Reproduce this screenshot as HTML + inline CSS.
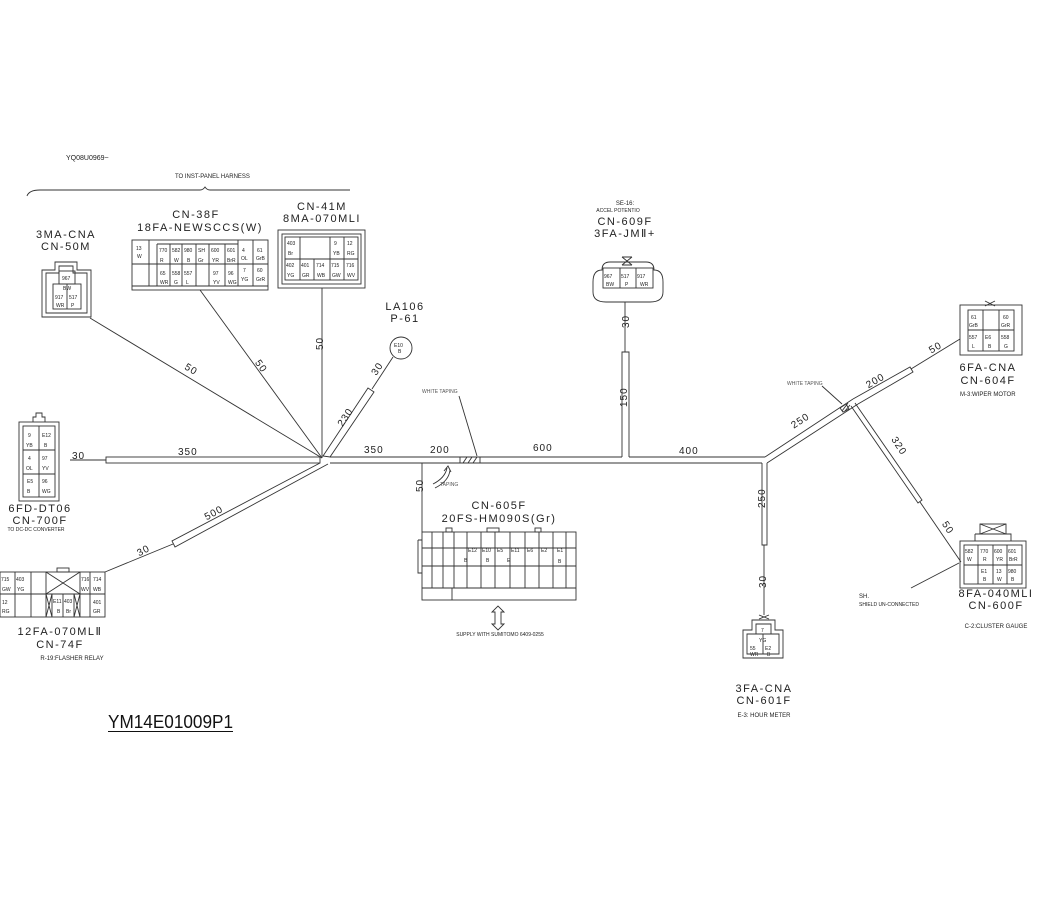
<!DOCTYPE html>
<html><head><meta charset="utf-8"><style>
html,body{margin:0;padding:0;background:#fff}
svg{display:block}
text{font-family:"Liberation Sans",sans-serif;fill:#222}
.l{font-size:11px;letter-spacing:1.5px}
.s{font-size:6px}
.t{font-size:5px;fill:#555}
.n{font-size:10px;letter-spacing:1px}
</style></head><body>
<svg width="1055" height="903" viewBox="0 0 1055 903" xmlns="http://www.w3.org/2000/svg">
<g stroke="#333" stroke-width="0.9" fill="none">
<path d="M27,196 Q29,190 40,190 L200,190 Q203,190 205,187 Q207,190 210,190 L350,190"/>
<line x1="70" y1="460" x2="106" y2="460"/>
<rect x="106" y="457" width="214" height="6"/>
<path d="M330,457 L622,457 M629,457 L765,457 M330,463 L762,463"/>
<path d="M765,457 L853,399 M767,463 L858,404"/>
<rect x="460" y="457" width="20" height="6"/>
<path d="M463,463 L467,457 M468,463 L472,457 M473,463 L477,457"/>
<line x1="90" y1="318" x2="322" y2="458"/>
<line x1="200" y1="290" x2="322" y2="458"/>
<line x1="322" y1="288" x2="322" y2="458"/>
<line x1="393" y1="357" x2="372" y2="389"/>
<path d="M368,388 L374,392 L330,457 L323,456 Z"/>
<path d="M320,463 L172,541 L175,547 L328,464"/>
<line x1="173" y1="544" x2="105" y2="572"/>
<line x1="422" y1="463" x2="422" y2="532"/>
<path d="M433,484 Q445,478 447,468"/><path d="M435,488 Q449,481 450,470"/>
<path d="M444,471 L448,466 L451,472"/>
<line x1="625" y1="302" x2="625" y2="352"/>
<path d="M622,457 L622,352 L629,352 L629,457"/>
<path d="M762,463 L762,545 L767,545 L767,463"/>
<line x1="764" y1="545" x2="764" y2="615"/>
<path d="M853,399 L910,367 L913,372 L858,404"/>
<path d="M840,408 L846,404 L849,409 L843,412 Z"/>
<path d="M842,411 L848,403 M845,411 L850,405"/>
<line x1="911" y1="369" x2="960" y2="339"/>
<path d="M855,403 L922,500 L918,503 L851,406"/>
<line x1="920" y1="502" x2="961" y2="562"/>
<line x1="459" y1="396" x2="477" y2="456"/>
<line x1="822" y1="386" x2="842" y2="404"/>
<line x1="911" y1="588" x2="959" y2="563"/>
<path d="M495,612 L495,624 L492,624 L498,630 L504,624 L501,624 L501,612 L504,612 L498,606 L492,612 Z"/>
<circle cx="401" cy="348" r="11"/>

<path d="M42,317 L42,270 L55,270 L55,262 L77,262 L77,270 L91,270 L91,317 Z"/>
<path d="M46,313 L46,273 L59,273 L59,266 L73,266 L73,273 L87,273 L87,313 Z"/>
<rect x="53" y="284" width="28" height="25"/><rect x="59" y="271" width="16" height="13"/><line x1="67" y1="284" x2="67" y2="309"/>
<rect x="132" y="240" width="136" height="50"/>
<line x1="132" y1="286" x2="268" y2="286"/>
<path d="M149,240 V286 M157,244 V286 M170,244 V286 M182,244 V286 M196,244 V286 M209,244 V286 M225,244 V286 M238,240 V286 M253,240 V286 M157,244 H238 M132,264 H268"/>
<rect x="278" y="230" width="87" height="58"/><rect x="282" y="234" width="79" height="50"/>
<rect x="285" y="237" width="73" height="43"/>
<path d="M285,259 H358 M300,237 V280 M330,237 V280 M344,237 V280 M314,259 V280"/>
<rect x="19" y="422" width="40" height="79"/>
<rect x="23" y="426" width="32" height="71"/>
<path d="M33,422 V417 L36,417 V413 L42,413 V417 L45,417 V422"/>
<path d="M23,450 H55 M23,474 H55 M39,426 V497"/>
<rect x="0" y="572" width="105" height="45"/>
<path d="M0,594 H105 M15,572 V617 M31,572 V617 M46,572 V617 M90,572 V617 M80,572 V617 M46,594 V572 M46,572 L80,594 M80,572 L46,594 M46,594 L52,617 M52,594 L46,617 M74,594 L80,617 M80,594 L74,617 M52,594 V617 M63,594 V617 M74,594 V617"/>
<rect x="57" y="568" width="12" height="4"/>
<rect x="422" y="532" width="154" height="68"/>
<path d="M422,548 H576 M422,566 H576 M422,588 H576 M432,532 V588 M443,532 V588 M454,532 V588 M467,532 V588 M481,532 V588 M495,532 V588 M510,532 V588 M525,532 V588 M539,532 V588 M553,532 V588 M566,532 V588 M452,588 V600"/>
<path d="M418,540 H422 M418,540 V573 H422"/>
<rect x="446" y="528" width="6" height="4"/><rect x="487" y="528" width="12" height="4"/><rect x="535" y="528" width="6" height="4"/>
<path d="M602,270 Q593,270 593,282 V292 Q593,302 606,302 H650 Q663,302 663,292 V282 Q663,270 654,270 Q654,262 646,262 H610 Q602,262 602,270 Z"/>
<rect x="603" y="268" width="50" height="20"/>
<path d="M620,268 V288 M636,268 V288"/>
<path d="M622,257 L632,265 M632,257 L622,265 M622,257 H632 M622,265 H632"/>
<rect x="960" y="305" width="62" height="50"/>
<rect x="968" y="310" width="46" height="41"/>
<path d="M968,330 H1014 M983,310 V351 M999,310 V351"/>
<path d="M985,301 L995,306 M995,301 L985,306"/>
<rect x="960" y="541" width="66" height="47"/>
<rect x="964" y="545" width="58" height="39"/>
<path d="M964,565 H1022 M978,545 V584 M993,545 V584 M1007,545 V584"/>
<rect x="980" y="524" width="26" height="10"/><path d="M980,524 L1006,534 M1006,524 L980,534 M975,534 H1011 V541 M975,534 V541"/>
<path d="M743,658 V630 L752,630 V620 H775 V630 L783,630 V658 Z"/>
<path d="M747,654 V634 L756,634 V624 H771 V634 L779,634 V654 Z"/>
<path d="M756,634 H771 M763,634 V654"/>
<path d="M759,615 L769,619 M769,615 L759,619"/>
</g>
<g>
<text x="66" y="160" class="s" style="font-size:7px">YQ08U0969~</text>
<text x="175" y="178" class="s">TO INST-PANEL HARNESS</text>
<text x="66" y="238" class="l" text-anchor="middle">3MA-CNA</text>
<text x="66" y="250" class="l" text-anchor="middle">CN-50M</text>
<text x="196" y="218" class="l" text-anchor="middle">CN-38F</text>
<text x="200" y="231" class="l" text-anchor="middle">18FA-NEWSCCS(W)</text>
<text x="322" y="210" class="l" text-anchor="middle">CN-41M</text>
<text x="322" y="222" class="l" text-anchor="middle">8MA-070MLI</text>
<text x="405" y="310" class="l" text-anchor="middle">LA106</text>
<text x="405" y="322" class="l" text-anchor="middle">P-61</text>
<text x="625" y="205" class="s" text-anchor="middle">SE-16:</text>
<text x="618" y="212" class="t" text-anchor="middle" style="fill:#222">ACCEL POTENTIO</text>
<text x="625" y="225" class="l" text-anchor="middle">CN-609F</text>
<text x="625" y="237" class="l" text-anchor="middle">3FA-JMⅡ+</text>
<text x="40" y="512" class="l" text-anchor="middle">6FD-DT06</text>
<text x="40" y="524" class="l" text-anchor="middle">CN-700F</text>
<text x="36" y="531" class="t" text-anchor="middle" style="fill:#222">TO DC-DC CONVERTER</text>
<text x="60" y="635" class="l" text-anchor="middle">12FA-070MLⅡ</text>
<text x="60" y="648" class="l" text-anchor="middle">CN-74F</text>
<text x="72" y="660" class="s" text-anchor="middle">R-19:FLASHER RELAY</text>
<text x="499" y="509" class="l" text-anchor="middle">CN-605F</text>
<text x="499" y="522" class="l" text-anchor="middle">20FS-HM090S(Gr)</text>
<text x="500" y="636" class="t" text-anchor="middle" style="fill:#222">SUPPLY WITH SUMITOMO 6409-0255</text>
<text x="440" y="486" class="t">TAPING</text>
<text x="422" y="393" class="t">WHITE TAPING</text>
<text x="787" y="385" class="t">WHITE TAPING</text>
<text x="988" y="371" class="l" text-anchor="middle">6FA-CNA</text>
<text x="988" y="384" class="l" text-anchor="middle">CN-604F</text>
<text x="960" y="396" class="s">M-3:WIPER MOTOR</text>
<text x="996" y="597" class="l" text-anchor="middle">8FA-040MLI</text>
<text x="996" y="609" class="l" text-anchor="middle">CN-600F</text>
<text x="996" y="628" class="s" text-anchor="middle">C-2:CLUSTER GAUGE</text>
<text x="859" y="598" class="s">SH.</text>
<text x="859" y="606" class="t" style="fill:#222">SHIELD UN-CONNECTED</text>
<text x="764" y="692" class="l" text-anchor="middle">3FA-CNA</text>
<text x="764" y="704" class="l" text-anchor="middle">CN-601F</text>
<text x="764" y="717" class="s" text-anchor="middle">E-3: HOUR METER</text>
<text x="108" y="728" style="font-size:18px;fill:#111" textLength="125" lengthAdjust="spacingAndGlyphs">YM14E01009P1</text>
<line x1="108" y1="731.5" x2="233" y2="731.5" stroke="#111" stroke-width="1"/>

<text x="72" y="459" class="n">30</text>
<text x="178" y="455" class="n">350</text>
<text x="364" y="453" class="n">350</text>
<text x="430" y="453" class="n">200</text>
<text x="533" y="451" class="n">600</text>
<text x="679" y="454" class="n">400</text>
<text x="184" y="372" class="n" transform="rotate(31 190 370)">50</text>
<text x="255" y="368" class="n" transform="rotate(55 260 365)">50</text>
<text x="318" y="355" class="n" transform="rotate(-90 318 350)">50</text>
<text x="372" y="374" class="n" transform="rotate(-56 376 371)">30</text>
<text x="336" y="421" class="n" transform="rotate(-56 345 418)">230</text>
<text x="204" y="516" class="n" transform="rotate(-28 214 513)">500</text>
<text x="137" y="554" class="n" transform="rotate(-28 143 551)">30</text>
<text x="418" y="497" class="n" transform="rotate(-90 418 492)">50</text>
<text x="624" y="333" class="n" transform="rotate(-90 624 328)">30</text>
<text x="622" y="412" class="n" transform="rotate(-90 622 407)">150</text>
<text x="758" y="515" class="n" transform="rotate(-90 758 508)">250</text>
<text x="761" y="593" class="n" transform="rotate(-90 761 588)">30</text>
<text x="790" y="424" class="n" transform="rotate(-33 800 420)">250</text>
<text x="865" y="384" class="n" transform="rotate(-30 875 380)">200</text>
<text x="929" y="351" class="n" transform="rotate(-30 935 348)">50</text>
<text x="889" y="447" class="n" transform="rotate(57 897 445)">320</text>
<text x="941" y="529" class="n" transform="rotate(57 946 527)">50</text>
</g>
<g class="t">
<text x="62" y="280">967</text><text x="63" y="290">BW</text><text x="55" y="299">917</text><text x="69" y="299">517</text><text x="56" y="307">WR</text><text x="71" y="307">P</text>
<text x="136" y="250">13</text><text x="137" y="258">W</text><text x="159" y="252">770</text><text x="172" y="252">582</text><text x="184" y="252">980</text><text x="198" y="252">SH</text><text x="211" y="252">600</text><text x="227" y="252">601</text><text x="160" y="262">R</text><text x="174" y="262">W</text><text x="187" y="262">B</text><text x="198" y="262">Gr</text><text x="212" y="262">YR</text><text x="227" y="262">BrR</text><text x="242" y="252">4</text><text x="257" y="252">61</text><text x="241" y="260">OL</text><text x="256" y="260">GrB</text>
<text x="160" y="275">65</text><text x="172" y="275">558</text><text x="184" y="275">557</text><text x="213" y="275">97</text><text x="228" y="275">96</text><text x="160" y="284">WR</text><text x="174" y="284">G</text><text x="186" y="284">L</text><text x="213" y="284">YV</text><text x="228" y="284">WG</text><text x="243" y="272">7</text><text x="257" y="272">60</text><text x="241" y="281">YG</text><text x="256" y="281">GrR</text>
<text x="287" y="245">403</text><text x="288" y="255">Br</text><text x="334" y="245">9</text><text x="347" y="245">12</text><text x="333" y="255">YB</text><text x="347" y="255">RG</text>
<text x="286" y="267">402</text><text x="301" y="267">401</text><text x="316" y="267">714</text><text x="331" y="267">715</text><text x="346" y="267">716</text><text x="287" y="277">YG</text><text x="302" y="277">GR</text><text x="317" y="277">WB</text><text x="332" y="277">GW</text><text x="347" y="277">WV</text>
<text x="28" y="437">9</text><text x="42" y="437">E12</text><text x="26" y="447">YB</text><text x="44" y="447">B</text><text x="28" y="460">4</text><text x="42" y="460">97</text><text x="26" y="470">OL</text><text x="42" y="470">YV</text><text x="27" y="483">E5</text><text x="42" y="483">96</text><text x="27" y="493">B</text><text x="42" y="493">WG</text>
<text x="1" y="581">715</text><text x="16" y="581">403</text><text x="2" y="591">GW</text><text x="17" y="591">YG</text><text x="2" y="604">12</text><text x="2" y="613">RG</text><text x="81" y="581">716</text><text x="93" y="581">714</text><text x="81" y="591">WV</text><text x="93" y="591">WB</text><text x="93" y="604">401</text><text x="93" y="613">GR</text><text x="53" y="603">E11</text><text x="64" y="603">403</text><text x="57" y="613">B</text><text x="66" y="613">Br</text>
<text x="468" y="552">E12</text><text x="482" y="552">E10</text><text x="497" y="552">E5</text><text x="511" y="552">E11</text><text x="527" y="552">E6</text><text x="541" y="552">E2</text><text x="557" y="552">E1</text><text x="464" y="562">B</text><text x="486" y="562">B</text><text x="507" y="562">E</text><text x="558" y="563">B</text>
<text x="604" y="278">967</text><text x="621" y="278">517</text><text x="637" y="278">917</text><text x="606" y="286">BW</text><text x="625" y="286">P</text><text x="640" y="286">WR</text>
<text x="971" y="319">61</text><text x="1003" y="319">60</text><text x="969" y="327">GrB</text><text x="1001" y="327">GrR</text><text x="969" y="339">557</text><text x="985" y="339">E6</text><text x="1001" y="339">558</text><text x="972" y="348">L</text><text x="988" y="348">B</text><text x="1004" y="348">G</text>
<text x="965" y="553">582</text><text x="980" y="553">770</text><text x="994" y="553">600</text><text x="1008" y="553">601</text><text x="967" y="561">W</text><text x="983" y="561">R</text><text x="996" y="561">YR</text><text x="1009" y="561">BrR</text><text x="981" y="573">E1</text><text x="996" y="573">13</text><text x="1008" y="573">980</text><text x="983" y="581">B</text><text x="997" y="581">W</text><text x="1011" y="581">B</text>
<text x="761" y="632">7</text><text x="759" y="642">YG</text><text x="750" y="650">55</text><text x="765" y="650">E2</text><text x="750" y="656">WR</text><text x="767" y="656">B</text>
<text x="394" y="347">E10</text><text x="398" y="353">B</text>
</g>
</svg>
</body></html>
